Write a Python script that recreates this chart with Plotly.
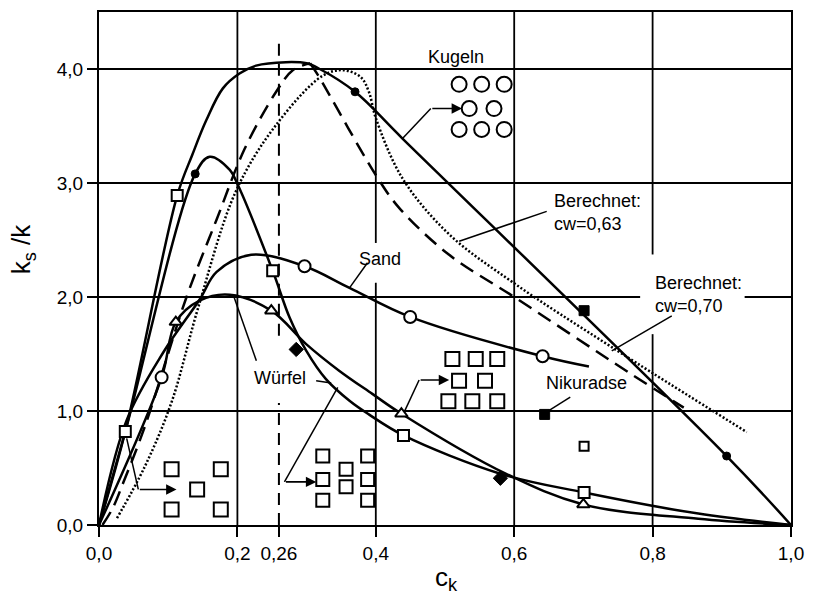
import plotly.graph_objects as go

# ---------------- data ----------------
# Kugeln (spheres), solid curve
kugeln_x = [0, 0.038, 0.113, 0.135, 0.155, 0.179, 0.203, 0.227, 0.27, 0.30, 0.319, 0.37, 0.4386, 0.907, 1.0]
kugeln_y = [0, 0.82, 2.89, 3.25, 3.55, 3.83, 3.96, 4.03, 4.06, 4.05, 4.00, 3.80, 3.39, 0.605, 0.0]

# second solid curve (peak 3.24)
versetzt_x = [0, 0.038, 0.139, 0.160, 0.189, 0.1994, 0.251, 0.2754, 0.2994, 0.328, 0.362, 0.39, 0.44, 0.58, 0.701, 0.866, 1.0]
versetzt_y = [0, 0.82, 3.08, 3.23, 3.115, 3.00, 2.23, 1.82, 1.53, 1.28, 1.09, 0.97, 0.786, 0.45, 0.285, 0.10, 0.0]

# Würfel curve (triangles)
wuerfel_x = [0, 0.0905, 0.111, 0.146, 0.189, 0.249, 0.2994, 0.347, 0.395, 0.437, 0.5876, 0.70, 0.866, 1.0]
wuerfel_y = [0, 1.295, 1.78, 1.97, 2.02, 1.88, 1.587, 1.354, 1.15, 0.976, 0.451, 0.18, 0.055, 0.0]

# Sand curve (open circles)
sand_x = [0, 0.04, 0.0928, 0.1457, 0.17, 0.22, 0.297, 0.362, 0.4497, 0.641, 0.708]
sand_y = [0, 0.92, 1.513, 1.98, 2.22, 2.37, 2.27, 2.08, 1.825, 1.48, 1.39]

# Berechnet, dashed curve (rising and falling branch)
dash_up_x = [0.005, 0.02, 0.035, 0.066, 0.1265, 0.17, 0.2105, 0.256, 0.28, 0.305]
dash_up_y = [0.0, 0.15, 0.37, 0.86, 2.0, 2.68, 3.30, 3.80, 3.99, 4.05]
dash_dn_x = [0.305, 0.316, 0.40, 0.434, 0.506, 0.60, 0.765, 0.845]
dash_dn_y = [4.05, 3.95, 3.07, 2.78, 2.37, 2.00, 1.34, 1.03]

# Berechnet, dotted curve
dot_x = [0.026, 0.066, 0.105, 0.143, 0.198, 0.256, 0.323, 0.352, 0.378, 0.39, 0.40, 0.4386, 0.506, 0.60, 0.741, 0.936]
dot_y = [0.06, 0.51, 1.08, 1.90, 2.93, 3.51, 3.94, 3.99, 3.93, 3.80, 3.57, 3.04, 2.55, 2.12, 1.56, 0.815]

# measured points
sq_open_x = [0.038, 0.113, 0.251, 0.44, 0.701]
sq_open_y = [0.82, 2.89, 2.23, 0.786, 0.285]
sq_small_x = [0.701]
sq_small_y = [0.69]
dot_fill_x = [0.139, 0.37, 0.907]
dot_fill_y = [3.08, 3.80, 0.605]
circ_open_x = [0.0905, 0.297, 0.4497, 0.641]
circ_open_y = [1.295, 2.27, 1.825, 1.48]
tri_open_x = [0.111, 0.249, 0.437, 0.70]
tri_open_y = [1.78, 1.88, 0.976, 0.18]
diam_fill_x = [0.285, 0.58]
diam_fill_y = [1.54, 0.41]
niku_x = [0.701, 0.644]
niku_y = [1.88, 0.97]

# arrangement sketches
kugel_icon_x = [0.5204, 0.553, 0.5855, 0.535, 0.5708, 0.5204, 0.553, 0.5855]
kugel_icon_y = [3.866, 3.866, 3.866, 3.653, 3.653, 3.47, 3.47, 3.47]
cube1_icon_x = [0.1049, 0.176, 0.1418, 0.1049, 0.176]
cube1_icon_y = [0.489, 0.489, 0.312, 0.137, 0.137]
cube2_icon_x = [0.3234, 0.3234, 0.3234, 0.357, 0.357, 0.3882, 0.3882, 0.3882]
cube2_icon_y = [0.605, 0.40, 0.218, 0.489, 0.335, 0.605, 0.40, 0.218]
cube3_icon_x = [0.5107, 0.5444, 0.5755, 0.5203, 0.5578, 0.5049, 0.5395, 0.5755]
cube3_icon_y = [1.456, 1.456, 1.456, 1.266, 1.266, 1.086, 1.086, 1.086]

# axis ticks
x_ticks = [0, 0.2, 0.26, 0.4, 0.6, 0.8, 1.0]
x_ticktext = ["0,0", "0,2", "0,26", "0,4", "0,6", "0,8", "1,0"]
y_ticks = [0, 1, 2, 3, 4]
y_ticktext = ["0,0", "1,0", "2,0", "3,0", "4,0"]

# grid lines (with gaps behind labels)
vgrid = [(0.2, 0, 4.5), (0.4, 0, 2.125), (0.4, 2.474, 4.5), (0.6, 0, 4.5),
         (0.8, 0, 1.674), (0.8, 2.373, 4.5)]
hgrid = [(1, 0, 1), (2, 0, 0.782), (2, 0.933, 1), (3, 0, 1), (4, 0, 1)]
v026 = [(0.26, 0, 1.07), (0.26, 1.66, 4.236)]

# leader lines
leaders = {
    "sand": ([0.388, 0.362], [2.30, 2.08]),
    "wuerfel_a": ([0.2274, 0.1937], [1.441, 2.024]),
    "wuerfel_b": ([0.3138, 0.3355], [1.266, 1.245]),
    "cw063": ([0.647, 0.5205], [2.751, 2.489]),
    "cw070": ([0.8277, 0.741], [1.834, 1.528]),
    "niku": ([0.681, 0.650], [1.121, 1.004]),
}
# bent arrows: polyline whose last point is the arrow tip
arrows = [
    ([0.4386, 0.4795, 0.5246], [3.39, 3.653, 3.653]),
    ([0.040, 0.0568, 0.112], [0.76, 0.312, 0.312]),
    ([0.345, 0.268, 0.314], [1.208, 0.378, 0.378]),
    ([0.441, 0.4626, 0.506], [0.99, 1.272, 1.272]),
]

labels = [
    ("Kugeln", 0.5155, 4.105, "center"),
    ("Sand", 0.4065, 2.332, "center"),
    ("Würfel", 0.2617, 1.293, "center"),
    ("Nikuradse", 0.704, 1.245, "center"),
    ("Berechnet:<br>cw=0,63", 0.654, 2.742, "left"),
    ("Berechnet:<br>cw=0,70", 0.80, 2.022, "left"),
]

# ---------------- figure ----------------
FONT = "Liberation Sans, Arial, sans-serif"
fig = go.Figure()

def curve(x, y, dash="solid", width=2.5, shape="spline"):
    fig.add_trace(go.Scatter(x=x, y=y, mode="lines",
                             line=dict(color="black", width=width, dash=dash, shape=shape, smoothing=1.0),
                             hoverinfo="skip"))

curve(dot_x, dot_y, dash="2px,2px", width=2.5)
curve(dash_up_x, dash_up_y, dash="15px,8px", width=2.5)
curve(dash_dn_x, dash_dn_y, dash="15px,8px", width=2.5)
curve(kugeln_x, kugeln_y)
curve(versetzt_x, versetzt_y)
curve(wuerfel_x, wuerfel_y)
curve(sand_x, sand_y)

for k, (lx, ly) in leaders.items():
    curve(lx, ly, width=1.5, shape="linear")

# bent part of each arrow (all but the last segment)
for ax_, ay_ in arrows:
    curve(ax_[:-1], ay_[:-1], width=1.5, shape="linear")

def markers(x, y, symbol, size, fill, lw=2):
    fig.add_trace(go.Scatter(x=x, y=y, mode="markers",
                             marker=dict(symbol=symbol, size=size, color=fill,
                                         line=dict(color="black", width=lw)),
                             hoverinfo="skip"))

markers(sq_open_x, sq_open_y, "square", 11, "white")
markers(sq_small_x, sq_small_y, "square", 9, "white")
markers(dot_fill_x, dot_fill_y, "circle", 8, "black", 1)
markers(circ_open_x, circ_open_y, "circle", 12, "white")
markers(tri_open_x, tri_open_y, "triangle-up", 11, "white")
markers(diam_fill_x, diam_fill_y, "diamond", 11, "black", 1)
markers(niku_x, niku_y, "square", 10, "black", 1)

markers(kugel_icon_x, kugel_icon_y, "circle", 15, "white")
markers(cube1_icon_x, cube1_icon_y, "square", 14, "white")
markers(cube2_icon_x, cube2_icon_y, "square", 13, "white")
markers(cube3_icon_x, cube3_icon_y, "square", 14, "white")

shapes = []
for xv, y0, y1 in vgrid:
    shapes.append(dict(type="line", xref="x", yref="y", x0=xv, x1=xv, y0=y0, y1=y1,
                       line=dict(color="black", width=1.8), layer="below"))
for yv, x0, x1 in hgrid:
    shapes.append(dict(type="line", xref="x", yref="y", x0=x0, x1=x1, y0=yv, y1=yv,
                       line=dict(color="black", width=1.8), layer="below"))
for xv, y0, y1 in v026:
    shapes.append(dict(type="line", xref="x", yref="y", x0=xv, x1=xv, y0=y0, y1=y1,
                       line=dict(color="black", width=2, dash="12px,8px"), layer="below"))

annotations = []
# last segment of each arrow with a filled head
for ax_, ay_ in arrows:
    annotations.append(dict(x=ax_[-1], y=ay_[-1], ax=ax_[-2], ay=ay_[-2], xref="x", yref="y",
                            axref="x", ayref="y", showarrow=True, arrowhead=2, arrowsize=1.3,
                            arrowwidth=1.6, arrowcolor="black", text=""))
for txt, lx, ly, al in labels:
    annotations.append(dict(x=lx, y=ly, xref="x", yref="y", text=txt, showarrow=False,
                            xanchor=al, yanchor="middle", align=al,
                            font=dict(family=FONT, size=18, color="black")))
annotations.append(dict(x=0.5015, y=-0.105, xref="x", yref="paper", text="c<sub>k</sub>",
                        showarrow=False, xanchor="center", yanchor="middle",
                        font=dict(family=FONT, size=26, color="black")))
annotations.append(dict(x=-0.111, y=2.42, xref="paper", yref="y", text="k<sub>s</sub> /k",
                        showarrow=False, textangle=-90, xanchor="center", yanchor="middle",
                        font=dict(family=FONT, size=26, color="black")))

fig.update_layout(
    width=814, height=597,
    margin=dict(l=99, r=21, t=10, b=72),
    paper_bgcolor="white", plot_bgcolor="white",
    showlegend=False,
    font=dict(family=FONT, size=19, color="black"),
    shapes=shapes, annotations=annotations,
    xaxis=dict(range=[0, 1], tickvals=x_ticks, ticktext=x_ticktext, showgrid=False,
               zeroline=False, showline=True, linewidth=2, linecolor="black", mirror=True,
               ticks="outside", ticklen=10, tickwidth=2, tickcolor="black",
               tickfont=dict(family=FONT, size=19, color="black")),
    yaxis=dict(range=[0, 4.5], tickvals=y_ticks, ticktext=y_ticktext, showgrid=False,
               zeroline=False, showline=True, linewidth=2, linecolor="black", mirror=True,
               ticks="outside", ticklen=10, tickwidth=2, tickcolor="black",
               tickfont=dict(family=FONT, size=19, color="black")),
)

fig.write_html("out.html")
